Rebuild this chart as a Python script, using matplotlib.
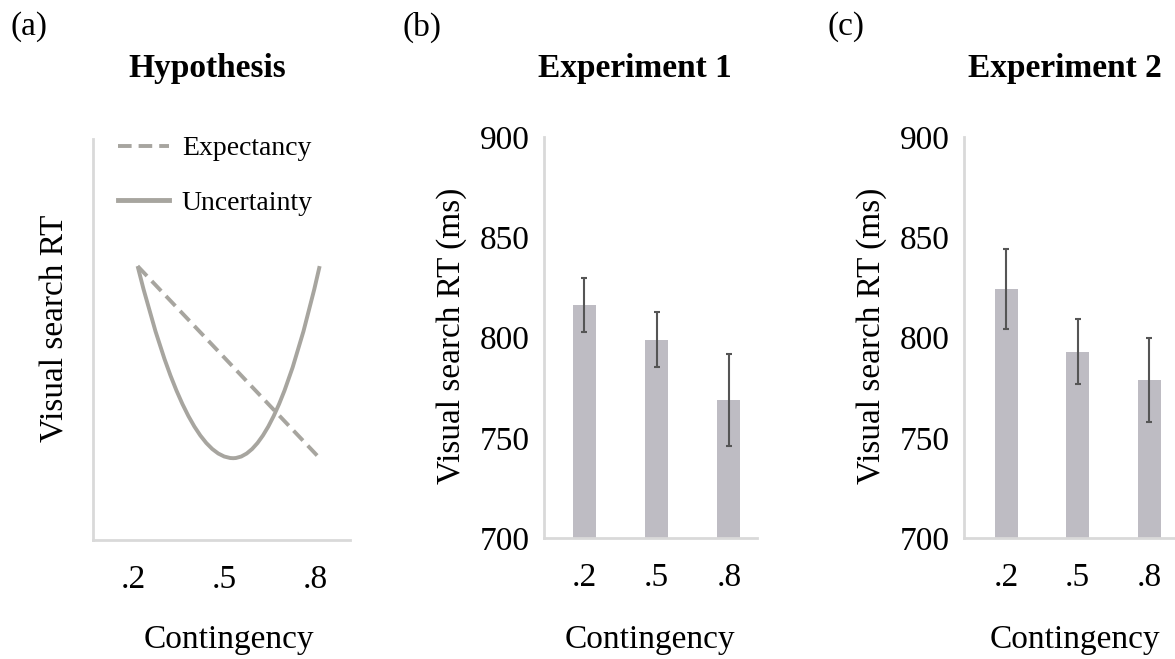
import matplotlib
matplotlib.use('Agg')
import matplotlib.pyplot as plt
from matplotlib.path import Path
from matplotlib.patches import PathPatch

# ---- data ----
contingency = ['.2', '.5', '.8']
exp1_rt = [816, 799, 769]
exp1_err = [13.5, 13.5, 23]
exp2_rt = [824, 793, 779]
exp2_err = [20, 16, 21]

# hypothesis sketch (arbitrary units)
expect_x = [0.215, 0.815]
expect_y = [0.683, 0.204]
uncert_x = [0.215, 0.53, 0.815]   # left end, minimum, right end
uncert_y = [0.683, 0.204, 0.683]

FONT = 'Liberation Serif'
plt.rcParams['font.family'] = FONT
W, H = 1175, 659
fig = plt.figure(figsize=(W / 100, H / 100), dpi=100)

line_col = '#a7a59f'
spine_col = '#d9d9d9'
bar_col = '#bebcc3'
err_col = '#555555'
big = 24


def px_axes(left, right, top, bottom):
    return fig.add_axes([left / W, 1 - bottom / H, (right - left) / W, (bottom - top) / H])


def style(ax):
    for s in ['top', 'right']:
        ax.spines[s].set_visible(False)
    for s in ['left', 'bottom']:
        ax.spines[s].set_color(spine_col)
        ax.spines[s].set_linewidth(2)
    ax.tick_params(length=0, labelsize=big, pad=13)


# ---- panel (a) ----
axa = px_axes(93, 350, 139, 540)
style(axa)
axa.set_xlim(0.068, 0.915)
axa.set_ylim(0, 1)
axa.plot(expect_x, expect_y, color=line_col, lw=2.8, dashes=(3.5, 1.8),
         label='Expectancy')
x0, h, x1 = uncert_x
y0, ymin, y1 = uncert_y
verts = [(x0, y0), ((x0 + h) / 2, ymin), (h, ymin), ((h + x1) / 2, ymin), (x1, y1)]
codes = [Path.MOVETO, Path.CURVE3, Path.CURVE3, Path.CURVE3, Path.CURVE3]
axa.add_patch(PathPatch(Path(verts, codes), fill=False, edgecolor=line_col, lw=2.8))
axa.plot([], [], color=line_col, lw=3.5, label='Uncertainty')
axa.set_xticks([0.2, 0.5, 0.8])
axa.set_xticklabels(contingency)
axa.set_yticks([])
axa.tick_params(axis='x', pad=18)
axa.legend(loc='upper left', bbox_to_anchor=(0.0, 1.07), frameon=False,
           fontsize=20, handlelength=1.85, handletextpad=0.45, labelspacing=1.05)

# ---- panels (b) and (c) ----
def bar_panel(left, right, data, err, offset_left, offset_right):
    ax = px_axes(left, right, 137, 538)
    style(ax)
    pos = range(len(data))
    ax.bar(pos, data, width=0.32, color=bar_col, zorder=2)
    ax.errorbar(pos, data, yerr=err, fmt='none', ecolor=err_col, elinewidth=1.5,
                capsize=2.5, capthick=1.5, zorder=3)
    ax.set_ylim(700, 900)
    ax.set_yticks([700, 750, 800, 850, 900])
    ax.set_xticks(list(pos))
    ax.set_xticklabels(contingency)
    ax.set_xlim(-offset_left, len(data) - 1 + offset_right)
    ax.tick_params(axis='x', pad=18)
    ax.tick_params(axis='y', pad=10)
    return ax


axb = bar_panel(544, 757, exp1_rt, exp1_err, 0.56, 0.39)
axc = bar_panel(964, 1175, exp2_rt, exp2_err, 0.59, 0.36)

# ---- texts ----
def ftext(x, y, s, **kw):
    fig.text(x / W, 1 - y / H, s, ha='center', va='center', **kw)

ftext(29, 27, '(a)', fontsize=24)
ftext(422, 27, '(b)', fontsize=24)
ftext(846, 27, '(c)', fontsize=24)
ftext(207, 69, 'Hypothesis', fontsize=24, fontweight='bold')
ftext(635, 69, 'Experiment 1', fontsize=24, fontweight='bold')
ftext(1065, 69, 'Experiment 2', fontsize=24, fontweight='bold')
ftext(55, 328, 'Visual search RT', fontsize=big, rotation=90)
ftext(452, 336, 'Visual search RT (ms)', fontsize=big, rotation=90)
ftext(872, 336, 'Visual search RT (ms)', fontsize=big, rotation=90)
ftext(229, 640, 'Contingency', fontsize=big)
ftext(650, 640, 'Contingency', fontsize=big)
ftext(1075, 640, 'Contingency', fontsize=big)

fig.savefig('out.png', dpi=100)
